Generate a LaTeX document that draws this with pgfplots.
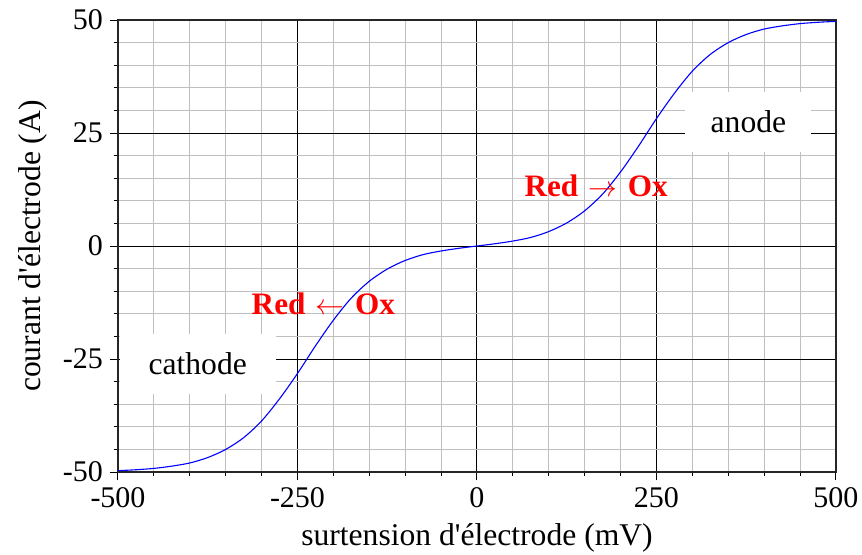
\documentclass[border=0pt]{standalone}
\usepackage{fontspec}
\setmainfont{Liberation Serif}
\usepackage{pgfplots}
\pgfplotsset{compat=1.18}
\begin{document}
\begin{tikzpicture}
\begin{axis}[
  at={(0,0)}, anchor=south west,
  scale only axis,
  width=359pt, height=226pt,
  xmin=-500, xmax=500, ymin=-50, ymax=50,
  xtick={-500,-250,0,250,500},
  xticklabels={-500,-250,0,250,500},
  ytick={-50,-25,0,25,50},
  yticklabels={-50,-25,0,25,50},
  minor x tick num=4, minor y tick num=4,
  grid=both,
  major grid style={black, line width=0.5pt},
  minor grid style={black!25, line width=0.5pt},
  tick pos=left, tick align=outside,
  major tick length=4pt, minor tick length=2pt,
  every tick/.style={black, line width=0.5pt},
  axis line style={black!85, line width=0.7pt},
  tick label style={font=\fontsize{15}{18}\selectfont},
  xlabel={surtension d\textquotesingle électrode (mV)},
  ylabel={courant d\textquotesingle électrode (A)},
  label style={font=\fontsize{15.8}{18}\selectfont},
  x label style={at={(axis description cs:0.5,-0.145)}, anchor=center},
  y label style={at={(axis description cs:-0.118,0.5)}, anchor=center},
  clip=false,
]
\addplot[blue, line width=0.55pt, smooth] coordinates {
(-500,-49.7) (-475,-49.5) (-450,-49.2) (-425,-48.7) (-400,-48.0) (-375,-46.8)
(-350,-45.0) (-325,-42.4) (-300,-38.7) (-275,-33.8) (-250,-28.2) (-225,-22.1)
(-200,-16.4) (-175,-11.5) (-150,-7.8) (-125,-5.1) (-100,-3.2) (-75,-1.9)
(-50,-1.1) (-25,-0.5) (0,0)
(25,0.5) (50,1.1) (75,1.9) (100,3.2) (125,5.1) (150,7.8) (175,11.5)
(200,16.4) (225,22.1) (250,28.2) (275,33.8) (300,38.7) (325,42.4)
(350,45.0) (375,46.8) (400,48.0) (425,48.7) (450,49.2) (475,49.5) (500,49.7)
};
\node[fill=white, inner sep=0pt, minimum width=63pt, minimum height=30pt,
  font=\fontsize{15.8}{18}\selectfont] at (axis cs:378,27.5) {anode};
\node[fill=white, inner sep=0pt, minimum width=78pt, minimum height=30pt,
  font=\fontsize{15.8}{18}\selectfont] at (axis cs:-389,-26) {cathode};
\node[text=red, font=\fontsize{15.6}{18}\selectfont\bfseries] at (axis cs:166,13.3) {Red\,\,$\rightarrow$\,\,Ox};
\node[text=red, font=\fontsize{15.6}{18}\selectfont\bfseries] at (axis cs:-214,-12.8) {Red\,\,$\leftarrow$\,\,Ox};
\end{axis}
\pgfresetboundingbox
\path[use as bounding box] (-59pt,-41pt) rectangle (372pt,236pt);
\end{tikzpicture}
\end{document}
